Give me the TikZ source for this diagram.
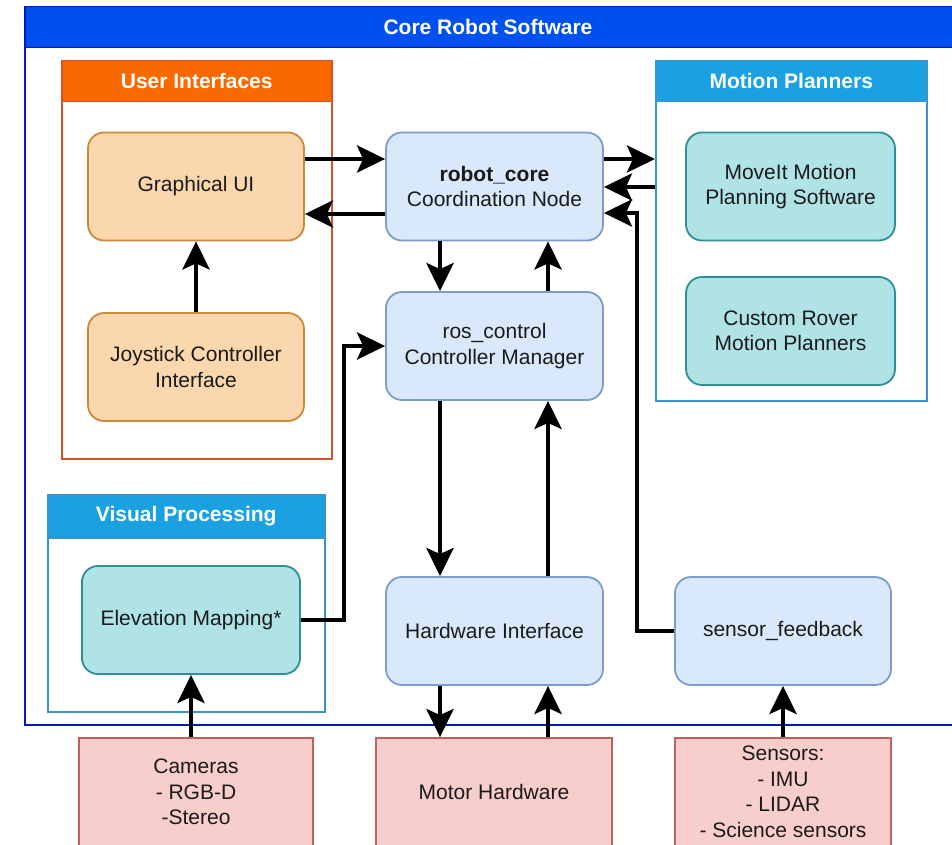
\documentclass[tikz,border=0pt]{standalone}
\usepackage{fontspec}
\setmainfont{Liberation Sans}
\usetikzlibrary{arrows.meta}

% palette
\definecolor{coreHead}{HTML}{0050EF}
\definecolor{coreLine}{HTML}{001DBC}
\definecolor{uiHead}{HTML}{FA6800}
\definecolor{uiLine}{HTML}{D5522A}
\definecolor{skyHead}{HTML}{1BA1E2}
\definecolor{skyLine}{HTML}{3B93CC}
\definecolor{orFill}{HTML}{FAD7AC}
\definecolor{orLine}{HTML}{C98A3A}
\definecolor{blFill}{HTML}{DAE8FC}
\definecolor{blLine}{HTML}{7C9CCB}
\definecolor{tlFill}{HTML}{B0E3E6}
\definecolor{tlLine}{HTML}{2E8F96}
\definecolor{rdFill}{HTML}{F8CECC}
\definecolor{rdLine}{HTML}{C0605C}
\definecolor{txt}{HTML}{1A1A1A}

\tikzset{
  body/.style={rectangle, anchor=north west, inner sep=0pt, line width=1.5pt},
  head/.style={rectangle, anchor=north west, inner sep=0pt, text=white,
    font=\bfseries\fontsize{21}{25}\selectfont},
  box/.style={rectangle, rounded corners=16pt, line width=1.8pt,
    minimum width=216pt, minimum height=108pt, align=center, text=txt,
    font=\fontsize{21}{25.5}\selectfont},
  orbox/.style={box, fill=orFill, draw=orLine},
  blbox/.style={box, fill=blFill, draw=blLine},
  tlbox/.style={box, fill=tlFill, draw=tlLine, minimum width=209pt},
  rdbox/.style={rectangle, line width=1.8pt, fill=rdFill, draw=rdLine,
    minimum height=108pt, align=center, text=txt,
    font=\fontsize{21}{25.5}\selectfont},
  arr/.style={line width=4.5pt, black,
    -{Stealth[length=28pt, width=27pt, inset=6pt]}}
}

\begin{document}
\begin{tikzpicture}[x=1pt, y=-1pt]
\useasboundingbox (0,0) rectangle (952,845);
\clip (0,0) rectangle (952,845);
\fill[white] (0,0) rectangle (952,845);

% ---- containers ----
\node[body, draw=coreLine, minimum width=930pt, minimum height=718pt] (core frame) at (24,6) {};
\node[head, fill=coreHead, draw=coreLine, line width=1.5pt, minimum width=930pt, minimum height=41pt] (core head) at (24,6) {};
\node[text=white, font=\bfseries\fontsize{21}{25}\selectfont] (core title) at (488,27) {Core Robot Software};

\node[body, draw=uiLine, minimum width=270pt, minimum height=398pt] (ui) at (61,60) {};
\node[head, fill=uiHead, draw=uiLine, line width=1.5pt, minimum width=270pt, minimum height=41pt] (ui head) at (61,60) {User Interfaces};

\node[body, draw=skyLine, minimum width=271pt, minimum height=340pt] (mp) at (655,60) {};
\node[head, fill=skyHead, draw=skyLine, line width=1.5pt, minimum width=271pt, minimum height=41pt] (mp head) at (655,60) {Motion Planners};

\node[body, draw=skyLine, minimum width=277pt, minimum height=217pt] (vp) at (47,494) {};
\node[head, fill=skyHead, draw=skyLine, line width=1.5pt, minimum width=277pt, minimum height=43pt] (vp head) at (47,494) {Visual Processing};

% ---- nodes ----
\node[orbox] (gui) at (196,186.5) {Graphical UI};
\node[orbox] (joy) at (196,367) {Joystick Controller\\Interface};

\node[blbox, minimum width=217pt] (rc) at (494.5,186.5) {\textbf{robot\_core}\\Coordination Node};
\node[blbox, minimum width=217pt] (ros) at (494.5,346) {ros\_control\\Controller Manager};
\node[blbox, minimum width=217pt] (hw) at (494.5,631) {Hardware Interface};
\node[blbox] (sf) at (783,631) {sensor\_feedback};

\node[tlbox] (moveit) at (790.5,186.5) {MoveIt Motion\\Planning Software};
\node[tlbox] (rover) at (790.5,331) {Custom Rover\\Motion Planners};
\node[tlbox, minimum width=218pt] (elev) at (191,620) {Elevation Mapping*};

\node[rdbox, minimum width=234pt] (cam) at (196,792) {Cameras\\- RGB-D\\-Stereo};
\node[rdbox, minimum width=236pt] (motor) at (494,792) {Motor Hardware};
\node[rdbox, minimum width=216pt] (sens) at (783,792) {Sensors:\\- IMU\\- LIDAR\\- Science sensors};

% ---- connectors ----
% user interface <-> robot_core
\draw[arr] ([yshift=27.5pt]gui.east) -- ([yshift=27.5pt]rc.west);
\draw[arr] ([yshift=-27.5pt]rc.west) -- ([yshift=-27.5pt]gui.east);
\draw[arr] (joy.north) -- (gui.south);

% robot_core <-> motion planners
\draw[arr] (rc.east |- 0,159) -- (mp.west |- 0,159);
\draw[arr] (mp.west |- 0,187) -- (rc.east |- 0,187);

% vertical chain robot_core / ros_control / hardware / motors
\draw[arr] ([xshift=-54.5pt]rc.south) -- ([xshift=-54.5pt]ros.north);
\draw[arr] ([xshift=53.5pt]ros.north) -- ([xshift=53.5pt]rc.south);
\draw[arr] ([xshift=-54.5pt]ros.south) -- ([xshift=-54.5pt]hw.north);
\draw[arr] ([xshift=53.5pt]hw.north) -- ([xshift=53.5pt]ros.south);
\draw[arr] ([xshift=-54.5pt]hw.south) -- (motor.north -| 440,0);
\draw[arr] (motor.north -| 548,0) -- ([xshift=53.5pt]hw.south);

% elevation map into the controller manager
\draw[arr] (elev.east) -- ++(43,0) |- (ros.west);

% sensor feedback up to robot_core
\draw[arr] (sf.west) -- ++(-37,0) |- (rc.east |- 0,213);

% raw inputs
\draw[arr] (cam.north -| elev.south) -- (elev.south);
\draw[arr] (sens.north) -- (sf.south);
\end{tikzpicture}
\end{document}
